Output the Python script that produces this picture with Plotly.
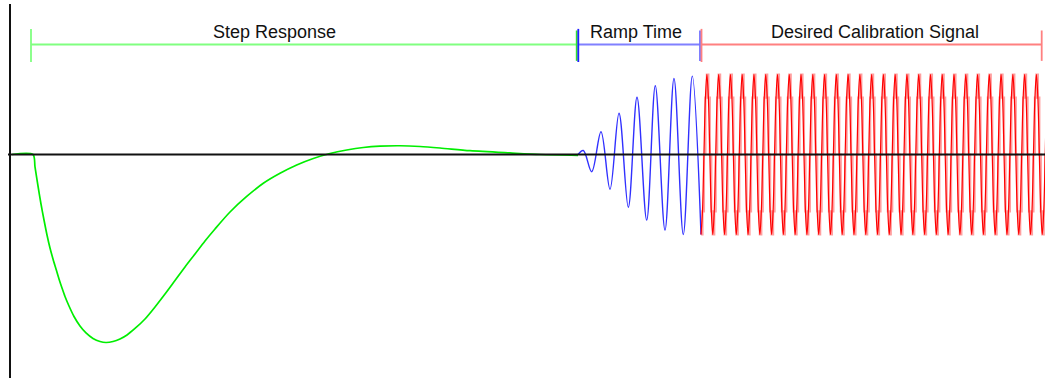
import plotly.graph_objects as go

# ---- data (time in ms, amplitude normalised to calibration amplitude) ----
step_t = [2, 23, 25, 28, 31, 34, 37, 40, 43, 46, 49, 52, 55, 59, 64, 70, 76, 83, 90, 96,
          103, 110, 117, 125, 135, 145, 155, 165, 175, 185, 195, 205, 220, 236.7, 253.3,
          270, 286.7, 303.3, 320, 336.7, 353.3, 370, 390, 410, 430, 460, 500, 530, 568]
step_v = [0, 0, -0.156, -0.394, -0.619, -0.819, -1.006, -1.169, -1.306, -1.431, -1.556,
          -1.669, -1.775, -1.894, -2.025, -2.144, -2.231, -2.3, -2.338, -2.35,
          -2.338, -2.306, -2.256, -2.175, -2.056, -1.906, -1.744, -1.575, -1.406, -1.244,
          -1.081, -0.931, -0.719, -0.525, -0.36, -0.235, -0.131, -0.05, 0.0125, 0.056,
          0.0875, 0.104, 0.109, 0.1, 0.081, 0.0475, 0.019, 0.0, -0.01]

ramp_t = [568, 573.3, 581.7, 591, 600, 609, 618.3, 627, 636.7, 645.3, 655, 664, 673.3, 682.3, 691]
ramp_v = [0, 0.05, -0.215, 0.285, -0.435, 0.515, -0.66, 0.715, -0.82, 0.86, -0.945, 0.95,
          -1.0, 0.98, -1.0]

cal_start = 691
cal_sample_dt = 1.471
cal_cycle = [-1.0, -0.71, 0.0, 0.71, 1.0, 0.71, 0.0, -0.71]
cal_cycles = 30
cal_v = cal_cycle * cal_cycles + [-1.0]
cal_t = [cal_start + i * cal_sample_dt for i in range(len(cal_v))]

section_labels = ["Step Response", "Ramp Time", "Desired Calibration Signal"]
section_start = [21, 568.3, 691.5]
section_end = [566.7, 690, 1031.7]
label_t = [264.5, 626, 865]

# ---- styling ----
bracket_colors = ["#80ff80", "#8080ff", "#ff8080"]
end_tick_colors = ["#30e030", "#7070ff", "#ff8080"]
start_tick_colors = ["#80ff80", "#2020ff", "#ff8080"]

fig = go.Figure()
fig.add_trace(go.Scatter(x=step_t, y=step_v, mode="lines",
                         line=dict(color="#00ee00", width=1.7, shape="spline", smoothing=0.8),
                         hoverinfo="skip", showlegend=False))
fig.add_trace(go.Scatter(x=ramp_t, y=ramp_v, mode="lines", line=dict(color="#3030ff", width=1.4, shape="spline"),
                         hoverinfo="skip", showlegend=False))
fig.add_trace(go.Scatter(x=cal_t, y=cal_v, mode="lines", line=dict(color="rgba(255,80,80,0.55)", width=2.2, shape="hv"),
                         hoverinfo="skip", showlegend=False))
fig.add_trace(go.Scatter(x=cal_t, y=cal_v, mode="lines", line=dict(color="#ff0000", width=1.2, shape="spline"),
                         hoverinfo="skip", showlegend=False))

bracket_y = 1.375
shapes = []
for i in range(3):
    shapes.append(dict(type="line", xref="x", yref="y", x0=section_start[i], x1=section_end[i],
                       y0=bracket_y, y1=bracket_y, line=dict(color=bracket_colors[i], width=2)))
    shapes.append(dict(type="line", xref="x", yref="y", x0=section_start[i], x1=section_start[i],
                       y0=1.156, y1=1.57, line=dict(color=start_tick_colors[i], width=1.8)))
    shapes.append(dict(type="line", xref="x", yref="y", x0=section_end[i], x1=section_end[i],
                       y0=1.17, y1=1.55, line=dict(color=end_tick_colors[i], width=1.8)))

# axes lines
shapes.append(dict(type="line", xref="x", yref="y", x0=-2, x1=1040, y0=0, y1=0,
                   line=dict(color="#111111", width=2)))
shapes.append(dict(type="line", xref="x", yref="y", x0=0, x1=0, y0=1.881, y1=-2.9,
                   line=dict(color="#111111", width=2)))

annotations = []
for i in range(3):
    annotations.append(dict(x=label_t[i], y=1.535, xref="x", yref="y", text=section_labels[i],
                            showarrow=False, xanchor="center", yanchor="middle",
                            font=dict(family="Liberation Sans, Arial, sans-serif", size=18, color="#111111")))

fig.update_layout(
    width=1045, height=378,
    margin=dict(l=0, r=0, t=0, b=0),
    paper_bgcolor="white", plot_bgcolor="white",
    xaxis=dict(range=[-10, 1035], visible=False, fixedrange=True),
    yaxis=dict(range=[-2.794, 1.931], visible=False, fixedrange=True),
    shapes=shapes, annotations=annotations, showlegend=False,
)
fig.write_html("out.html", config={"displayModeBar": False},
               post_script="document.body.style.margin='0';document.body.style.overflow='hidden';")
